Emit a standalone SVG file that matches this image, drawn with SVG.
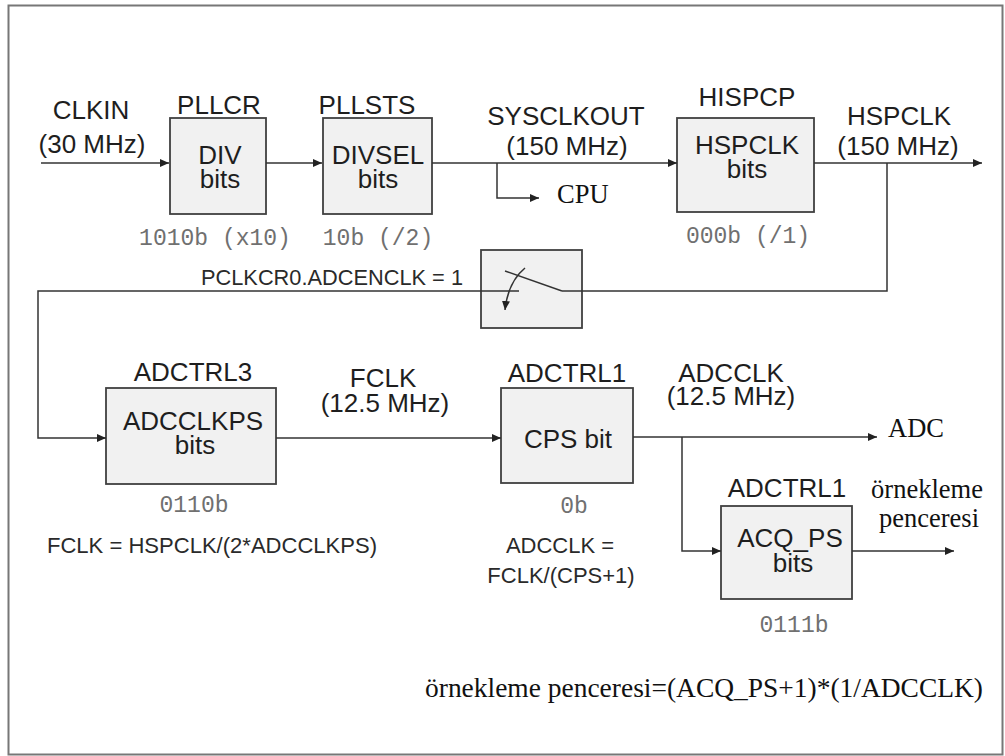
<svg xmlns="http://www.w3.org/2000/svg" width="1005" height="756" viewBox="0 0 1005 756">
<defs>
<style>
.box{fill:#f1f1f1;stroke:#404040;stroke-width:1.8}
.ln{fill:none;stroke:#333;stroke-width:1.5}
.lbl{font-family:"Liberation Sans",Arial,sans-serif;font-size:26px;fill:#1e1e1e;text-anchor:middle}
.sm{font-family:"Liberation Sans",Arial,sans-serif;font-size:22px;fill:#2a2a2a;text-anchor:middle}
.val{font-family:"Liberation Mono","Courier New",monospace;font-size:23px;fill:#707070;text-anchor:middle}
.tm{font-family:"Liberation Serif","Times New Roman",serif;font-size:26.5px;fill:#111}
</style>
<marker id="ah" markerUnits="userSpaceOnUse" markerWidth="9" markerHeight="8" refX="9" refY="4" orient="auto">
<path d="M0,0 L9,4 L0,8 z" fill="#222"/>
</marker>
</defs>
<rect x="0" y="0" width="1005" height="756" fill="#fff"/>
<rect x="8.5" y="5.5" width="994" height="749" fill="none" stroke="#777" stroke-width="2"/>

<g id="clkin">
<text class="lbl" x="91" y="119">CLKIN</text>
<text class="lbl" x="92" y="153">(30 MHz)</text>
</g>

<g id="pllcr">
<rect class="box" x="170" y="118" width="96" height="96"/>
<text class="lbl" x="219" y="114">PLLCR</text>
<text class="lbl" x="220" y="164">DIV</text>
<text class="lbl" x="220" y="188">bits</text>
<text class="val" x="215" y="245">1010b (x10)</text>
</g>

<g id="pllsts">
<rect class="box" x="323" y="118" width="109" height="96"/>
<text class="lbl" x="367" y="114">PLLSTS</text>
<text class="lbl" x="378" y="164">DIVSEL</text>
<text class="lbl" x="378" y="188">bits</text>
<text class="val" x="378" y="245">10b (/2)</text>
</g>

<g id="sysclkout">
<text class="lbl" x="566" y="125">SYSCLKOUT</text>
<text class="lbl" x="567" y="155">(150 MHz)</text>
<text class="tm" x="557" y="203">CPU</text>
</g>

<g id="hispcp">
<rect class="box" x="677" y="118" width="137" height="94"/>
<text class="lbl" x="747" y="106">HISPCP</text>
<text class="lbl" x="747" y="154">HSPCLK</text>
<text class="lbl" x="747" y="178">bits</text>
<text class="val" x="748" y="243">000b (/1)</text>
</g>

<g id="hspclk">
<text class="lbl" x="899" y="125">HSPCLK</text>
<text class="lbl" x="898" y="155">(150 MHz)</text>
</g>

<g id="switch">
<rect class="box" x="481" y="250" width="101" height="78"/>
<text class="sm" x="332" y="285" textLength="262" lengthAdjust="spacingAndGlyphs">PCLKCR0.ADCENCLK = 1</text>
</g>

<g id="adctrl3">
<rect class="box" x="106" y="388" width="170" height="96"/>
<text class="lbl" x="193" y="381">ADCTRL3</text>
<text class="lbl" x="193" y="430">ADCCLKPS</text>
<text class="lbl" x="195" y="454">bits</text>
<text class="val" x="194" y="512">0110b</text>
<text class="sm" x="212" y="553" textLength="330" lengthAdjust="spacingAndGlyphs">FCLK = HSPCLK/(2*ADCCLKPS)</text>
</g>

<g id="fclk">
<text class="lbl" x="383" y="387">FCLK</text>
<text class="lbl" x="385" y="412">(12.5 MHz)</text>
</g>

<g id="adctrl1">
<rect class="box" x="501" y="388" width="132" height="95"/>
<text class="lbl" x="567" y="382">ADCTRL1</text>
<text class="lbl" x="568" y="448">CPS bit</text>
<text class="val" x="574" y="513">0b</text>
<text class="sm" x="560" y="553">ADCCLK =</text>
<text class="sm" x="561" y="583">FCLK/(CPS+1)</text>
</g>

<g id="adcclk">
<text class="lbl" x="731" y="382">ADCCLK</text>
<text class="lbl" x="731" y="405">(12.5 MHz)</text>
<text class="tm" x="888" y="437">ADC</text>
</g>

<g id="acq">
<rect class="box" x="721" y="506" width="131" height="93"/>
<text class="lbl" x="787" y="497">ADCTRL1</text>
<text class="lbl" x="790" y="547">ACQ_PS</text>
<text class="lbl" x="793" y="572">bits</text>
<text class="val" x="794" y="632">0111b</text>
</g>

<g id="ornekleme">
<text class="tm" x="927" y="498" text-anchor="middle">örnekleme</text>
<text class="tm" x="929" y="527" text-anchor="middle">penceresi</text>
<text class="tm" x="425" y="697" textLength="558" lengthAdjust="spacingAndGlyphs">örnekleme penceresi=(ACQ_PS+1)*(1/ADCCLK)</text>
</g>

<g id="connectors">
<path class="ln" d="M41,163 H169" marker-end="url(#ah)"/>
<path class="ln" d="M266,163 H322" marker-end="url(#ah)"/>
<path class="ln" d="M432,163 H677" marker-end="url(#ah)"/>
<path class="ln" d="M497,163 V198 H539" marker-end="url(#ah)"/>
<path class="ln" d="M814,163 H982" marker-end="url(#ah)"/>
<path class="ln" d="M887,163 V291 H562"/>
<path class="ln" d="M562,291 L505,271"/>
<path class="ln" d="M519,291 H38 V438 H106" marker-end="url(#ah)"/>
<path class="ln" d="M525,268 Q508,282 505,310" marker-end="url(#ah)"/>
<path class="ln" d="M276,438 H501" marker-end="url(#ah)"/>
<path class="ln" d="M633,437 H877" marker-end="url(#ah)"/>
<path class="ln" d="M682,437 V551 H721" marker-end="url(#ah)"/>
<path class="ln" d="M852,551 H954" marker-end="url(#ah)"/>
</g>
</svg>
